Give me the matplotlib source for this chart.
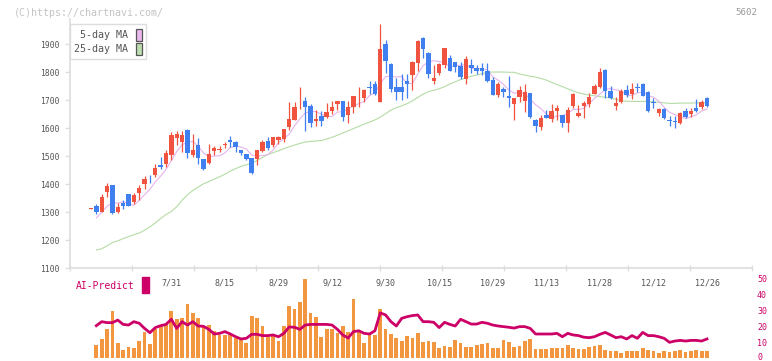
import numpy as np
import matplotlib
matplotlib.use('Agg')
import matplotlib.pyplot as plt
from matplotlib.patches import Rectangle
from matplotlib.transforms import ScaledTranslation

# daily candles (first candle has no volume / MA / AI value)
opens = [1313, 1322, 1302, 1372, 1397, 1302, 1334, 1365, 1338, 1370,
         1401, 1420, 1434, 1469, 1472, 1505, 1566, 1552, 1594, 1505,
         1540, 1490, 1477, 1520, 1522, 1541, 1558, 1550, 1522, 1507,
         1493, 1490, 1519, 1556, 1540, 1558, 1562, 1603, 1630, 1693,
         1697, 1680, 1627, 1644, 1639, 1662, 1687, 1697, 1647, 1675,
         1710, 1709, 1747, 1757, 1695, 1901, 1830, 1749, 1749, 1769,
         1790, 1834, 1921, 1868, 1770, 1796, 1826, 1850, 1836, 1822,
         1775, 1827, 1816, 1816, 1805, 1772, 1720, 1739, 1715, 1687,
         1713, 1699, 1725, 1630, 1606, 1647, 1633, 1663, 1647, 1618,
         1680, 1644, 1680, 1686, 1722, 1749, 1808, 1733, 1681, 1695,
         1737, 1722, 1747, 1758, 1729, 1692, 1656, 1669, 1628, 1625,
         1618, 1662, 1651, 1671, 1677, 1709]
highs = [1316, 1328, 1365, 1405, 1399, 1332, 1344, 1366, 1368, 1398,
         1430, 1433, 1472, 1499, 1522, 1588, 1591, 1591, 1596, 1580,
         1564, 1492, 1543, 1538, 1535, 1551, 1572, 1556, 1524, 1509,
         1495, 1524, 1558, 1570, 1570, 1572, 1599, 1693, 1693, 1746,
         1713, 1687, 1665, 1662, 1689, 1697, 1698, 1699, 1697, 1717,
         1749, 1739, 1769, 1769, 1972, 1915, 1832, 1778, 1793, 1794,
         1840, 1914, 1927, 1874, 1826, 1834, 1888, 1862, 1838, 1838,
         1858, 1847, 1827, 1832, 1832, 1784, 1766, 1749, 1787, 1708,
         1751, 1758, 1727, 1632, 1647, 1665, 1687, 1683, 1649, 1677,
         1725, 1683, 1698, 1727, 1758, 1814, 1811, 1751, 1711, 1739,
         1755, 1761, 1761, 1763, 1734, 1707, 1673, 1671, 1644, 1644,
         1659, 1671, 1671, 1705, 1701, 1713]
lows = [1311, 1293, 1300, 1355, 1293, 1299, 1312, 1322, 1330, 1344,
        1382, 1406, 1427, 1453, 1463, 1487, 1541, 1516, 1495, 1498,
        1472, 1451, 1472, 1505, 1515, 1531, 1534, 1516, 1505, 1486,
        1437, 1469, 1514, 1522, 1534, 1544, 1550, 1594, 1628, 1669,
        1591, 1606, 1608, 1608, 1636, 1650, 1665, 1626, 1620, 1656,
        1675, 1695, 1722, 1720, 1693, 1796, 1731, 1701, 1701, 1707,
        1737, 1805, 1850, 1781, 1758, 1790, 1816, 1805, 1802, 1775,
        1758, 1798, 1794, 1790, 1764, 1718, 1713, 1713, 1677, 1630,
        1695, 1659, 1636, 1588, 1594, 1636, 1624, 1630, 1606, 1588,
        1671, 1641, 1638, 1677, 1721, 1743, 1707, 1704, 1665, 1689,
        1713, 1704, 1729, 1714, 1659, 1671, 1644, 1632, 1608, 1600,
        1617, 1636, 1641, 1659, 1668, 1677]
closes = [1315, 1302, 1354, 1394, 1299, 1318, 1323, 1323, 1362, 1387,
          1419, 1418, 1458, 1461, 1511, 1576, 1580, 1576, 1513, 1522,
          1493, 1455, 1507, 1528, 1525, 1544, 1550, 1534, 1513, 1489,
          1441, 1522, 1552, 1528, 1568, 1570, 1597, 1633, 1675, 1695,
          1677, 1620, 1633, 1627, 1657, 1675, 1697, 1639, 1675, 1715,
          1712, 1737, 1745, 1722, 1883, 1840, 1740, 1731, 1731, 1758,
          1838, 1912, 1882, 1793, 1778, 1830, 1886, 1806, 1818, 1784,
          1847, 1816, 1806, 1806, 1770, 1720, 1758, 1731, 1708, 1707,
          1737, 1731, 1639, 1608, 1637, 1638, 1662, 1673, 1620, 1665,
          1721, 1656, 1691, 1713, 1752, 1800, 1734, 1709, 1691, 1733,
          1719, 1740, 1745, 1716, 1663, 1690, 1669, 1636, 1626, 1623,
          1653, 1639, 1662, 1663, 1695, 1681]

ma5 = [1280, 1300, 1322, 1333, 1333, 1338, 1331, 1325, 1343, 1363,
       1382, 1409, 1429, 1453, 1485, 1517, 1541, 1551, 1553, 1537,
       1512, 1498, 1501, 1502, 1512, 1531, 1536, 1533, 1526, 1505,
       1500, 1503, 1506, 1522, 1548, 1563, 1579, 1609, 1634, 1655,
       1660, 1660, 1650, 1643, 1642, 1658, 1659, 1669, 1680, 1688,
       1696, 1717, 1726, 1760, 1785, 1786, 1783, 1785, 1760, 1760,
       1794, 1824, 1837, 1841, 1839, 1834, 1819, 1824, 1825, 1828,
       1814, 1814, 1812, 1809, 1784, 1772, 1757, 1737, 1725, 1728,
       1723, 1704, 1684, 1670, 1651, 1637, 1644, 1646, 1652, 1668,
       1667, 1671, 1689, 1707, 1722, 1738, 1742, 1737, 1733, 1717,
       1718, 1726, 1731, 1717, 1711, 1697, 1675, 1657, 1649, 1641,
       1635, 1641, 1648, 1662, 1668]
ma25 = [1165, 1170, 1180, 1192, 1198, 1206, 1213, 1220, 1226, 1236,
        1248, 1262, 1278, 1292, 1303, 1320, 1343, 1362, 1378, 1390,
        1402, 1410, 1418, 1427, 1436, 1447, 1456, 1464, 1470, 1475,
        1485, 1496, 1506, 1513, 1520, 1527, 1534, 1540, 1546, 1551,
        1553, 1555, 1556, 1562, 1568, 1575, 1583, 1591, 1599, 1607,
        1615, 1622, 1630, 1640, 1652, 1665, 1674, 1680, 1688, 1698,
        1710, 1722, 1731, 1736, 1741, 1749, 1758, 1766, 1774, 1780,
        1786, 1790, 1795, 1799, 1801, 1801, 1801, 1800, 1800, 1794,
        1790, 1786, 1783, 1778, 1772, 1764, 1756, 1749, 1741, 1733,
        1727, 1722, 1719, 1716, 1713, 1711, 1708, 1704, 1698, 1697,
        1696, 1696, 1696, 1696, 1695, 1693, 1691, 1689, 1689, 1690,
        1690, 1690, 1691, 1691, 1691]

volume = [40, 57, 87, 144, 45, 24, 33, 30, 51, 78,
          42, 87, 97, 102, 144, 117, 123, 165, 138, 121,
          97, 99, 82, 69, 69, 69, 60, 54, 45, 129,
          123, 96, 64, 69, 51, 96, 159, 150, 171, 240,
          138, 126, 63, 87, 87, 76, 96, 78, 178, 80,
          45, 70, 69, 148, 87, 72, 60, 51, 66, 60,
          75, 48, 51, 48, 30, 36, 33, 56, 45, 33,
          33, 39, 42, 45, 30, 30, 54, 48, 33, 36,
          51, 57, 27, 27, 27, 30, 30, 30, 39, 30,
          27, 27, 33, 36, 39, 24, 21, 21, 15, 21,
          21, 21, 30, 24, 21, 15, 21, 18, 21, 24,
          18, 21, 24, 21, 21]
ai_predict = [20.2, 22.7, 22.1, 22.1, 23.7, 21.0, 20.6, 22.7, 21.7, 18.5,
              15.8, 19.0, 20.2, 21.0, 24.2, 18.5, 22.7, 20.6, 22.7, 20.0,
              19.8, 17.9, 15.0, 15.4, 16.5, 15.0, 13.3, 11.9, 12.3, 14.8,
              14.8, 14.0, 14.0, 14.4, 13.3, 15.4, 19.4, 19.2, 17.9, 20.6,
              21.0, 21.0, 21.0, 21.0, 20.6, 17.9, 14.4, 12.5, 16.5, 17.0,
              15.4, 15.0, 17.0, 28.2, 26.9, 22.7, 20.0, 24.8, 25.8, 26.5,
              26.9, 22.7, 22.7, 22.3, 19.0, 22.3, 21.0, 20.0, 24.2, 22.7,
              21.2, 21.2, 22.3, 21.7, 20.6, 20.0, 19.6, 19.2, 18.7, 19.6,
              19.6, 18.5, 15.0, 15.0, 15.0, 15.0, 15.4, 13.3, 15.4, 14.4,
              14.0, 13.0, 12.7, 13.3, 14.8, 16.0, 14.4, 12.7, 13.3, 11.9,
              14.0, 12.3, 16.0, 14.0, 14.0, 13.3, 12.3, 9.8, 10.6, 11.0,
              10.6, 11.0, 11.0, 10.6, 11.9]

date_labels = ['7/31', '8/15', '8/29', '9/12', '9/30', '10/15',
               '10/29', '11/13', '11/28', '12/12', '12/26']

up_col = '#f0533f'
down_col = '#3f7ff0'
crimson = '#cc0066'
grid_col = '#dddddd'
txt_col = '#555555'

plt.rcParams['font.family'] = ['DejaVu Sans Mono']

W, H = 772, 361
fig = plt.figure(figsize=(W / 100, H / 100), dpi=100)

x = np.arange(len(opens))
xs = x[1:]
x0, x1 = -3.92, 123.4

# price panel
ax = fig.add_axes([70 / W, 1 - 268.3 / H, 682 / W, 249.2 / H])
o = np.array(opens)
c = np.array(closes)
cols = np.where(c >= o, up_col, down_col)
ax.plot(xs, ma25, color='#b4dca4', lw=0.8, zorder=2)
ax.plot(xs, ma5, color='#e6b3ee', lw=0.8, zorder=2)
ax.vlines(x, lows, highs, colors=cols, lw=0.9, zorder=3)
ax.bar(x, np.maximum(np.abs(c - o), 2.5), bottom=np.minimum(o, c),
       width=0.82, color=cols, lw=0, zorder=4)

ax.set_xlim(x0, x1)
ax.set_ylim(1100, 1990)
for s in ['top', 'right']:
    ax.spines[s].set_visible(False)
for s in ['left', 'bottom']:
    ax.spines[s].set_color(grid_col)
    ax.spines[s].set_linewidth(1.2)
ax.set_yticks(range(1100, 2000, 100))
ax.tick_params(axis='y', length=3.6, width=1, color=grid_col, pad=4,
               labelsize=5.8, labelcolor=txt_col)
ax.set_xticks(range(15, len(opens), 10))
ax.set_xticklabels(date_labels)
ax.tick_params(axis='x', length=0, pad=7, labelsize=6, labelcolor=txt_col)
ax.set_xticks(np.linspace(x0, x1, 12), minor=True)
ax.tick_params(axis='x', which='minor', length=4, width=1,
               direction='inout', color=grid_col)

h1 = Rectangle((0, 0), 1, 1, facecolor='#eab8ee', edgecolor='#555555', lw=0.9)
h2 = Rectangle((0, 0), 1, 1, facecolor='#bcdeb0', edgecolor='#555555', lw=0.9)
leg = ax.legend([h1, h2], ['5-day MA', '25-day MA'], loc='upper left',
                bbox_to_anchor=(0, 0.98), borderaxespad=0, markerfirst=False,
                fontsize=7.2, handlelength=0.6, handleheight=1.5,
                handletextpad=0.7, labelspacing=0.2, borderpad=0.45,
                fancybox=False, edgecolor=grid_col, framealpha=1)
leg.get_frame().set_linewidth(1.0)
for t in leg.get_texts():
    t.set_color(txt_col)

# volume + AI panel
bx = fig.add_axes([70 / W, 1 - 358 / H, 682 / W, 80 / H])
bx.bar(xs, volume, width=0.7, color='#f2973f', lw=0)
bx.set_xlim(x0, x1)
bx.set_ylim(0, 243)
bx.axis('off')

ai = bx.twinx()
ai.plot(xs, ai_predict, color=crimson, lw=2)
ai.set_xlim(x0, x1)
ai.set_ylim(0, 50)
ai.set_yticks(range(0, 51, 10))
ai.tick_params(axis='y', length=0, pad=3.6, labelsize=6, labelcolor=crimson)
for s in ai.spines.values():
    s.set_visible(False)
# keep the "0" inside the picture
zero_lab = ai.yaxis.get_major_ticks()[0].label2
zero_lab.set_transform(zero_lab.get_transform() +
                       ScaledTranslation(0, 0.02, fig.dpi_scale_trans))

fig.text(76 / W, 1 - 286 / H, 'AI-Predict', color=crimson, fontsize=7,
         va='center')
fig.add_artist(Rectangle((142.3 / W, 1 - 292.7 / H), 6.4 / W, 16 / H,
                         transform=fig.transFigure, color=crimson))
fig.text(14 / W, 1 - 12.5 / H, '(C)https://chartnavi.com/', color='#c4c4c4',
         fontsize=7.2, va='center')
fig.text(757 / W, 1 - 12.5 / H, '5602', color='#999999', fontsize=6.6,
         ha='right', va='center')

fig.savefig('out.png', dpi=100)
